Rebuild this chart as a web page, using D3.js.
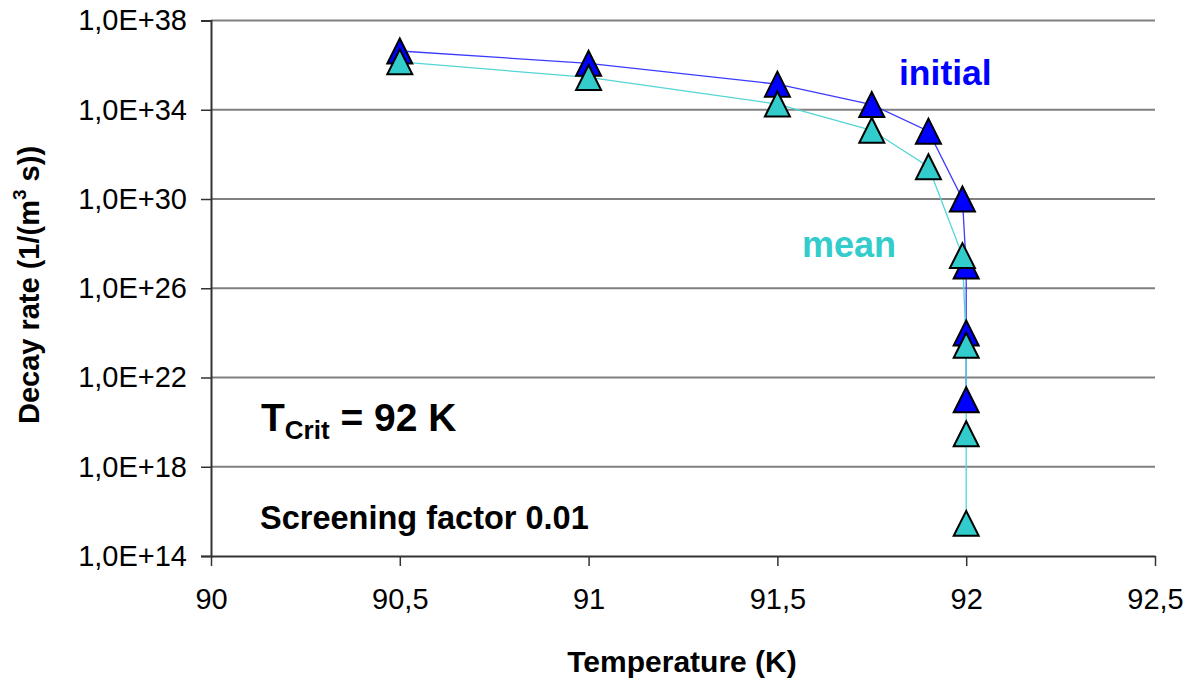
<!DOCTYPE html>
<html>
<head>
<meta charset="utf-8">
<script src="https://cdn.jsdelivr.net/npm/d3@7"></script>
<style>
  html, body { margin: 0; padding: 0; background: #fff; }
  svg { display: block; }
  text { font-family: "Liberation Sans", Arial, sans-serif; }
</style>
</head>
<body>
<svg id="chart" width="1192" height="684"></svg>
<script>
// ---- data ----
const tempInitial = [90.5, 91, 91.5, 91.75, 91.9, 91.99, 92, 92, 92];
const rateInitial = [4.3e36, 1.2e36, 1.4e35, 1.7e34, 1.1e33, 1.0e30, 1.0e27, 1.0e24, 1.0e21];
const tempMean = [90.5, 91, 91.5, 91.75, 91.9, 91.99, 92, 92, 92];
const rateMean = [1.4e36, 2.8e35, 1.8e34, 1.2e33, 2.8e31, 2.9e27, 2.8e23, 3.0e19, 2.9e15];
const xTicks = [90, 90.5, 91, 91.5, 92, 92.5];
const yTicks = [1e14, 1e18, 1e22, 1e26, 1e30, 1e34, 1e38];
const seriesNames = ["initial", "mean"];
const seriesColors = ["#0000ff", "#33cccc"];
const lineColors = ["#3b3bff", "#55d5d5"];

const svg = d3.select("#chart");
const x = d3.scaleLinear().domain([90, 92.5]).range([211, 1155]);
const y = d3.scaleLog().domain([1e14, 1e38]).range([556, 20.5]);

const fmtX = d => String(d).replace(".", ",");
const fmtY = d => "1,0E+" + Math.round(Math.log10(d));

// gridlines
svg.append("g").selectAll("line").data(yTicks.filter(d => d > 1e14)).join("line")
  .attr("x1", 211).attr("x2", 1155)
  .attr("y1", d => y(d)).attr("y2", d => y(d))
  .attr("stroke", "#808080").attr("stroke-width", 2);

// y axis
const yAxis = svg.append("g").attr("transform", "translate(211,0)")
  .call(d3.axisLeft(y).tickValues(yTicks).tickFormat(fmtY).tickSize(10).tickPadding(14));
yAxis.select(".domain").attr("stroke", "#333").attr("stroke-width", 2);
yAxis.selectAll(".tick line").attr("stroke", "#333").attr("stroke-width", 1.5);
yAxis.selectAll(".tick text").attr("font-size", 29).attr("fill", "#000")
  .style("font-family", "'Liberation Sans', Arial, sans-serif");

// x axis
const xAxis = svg.append("g").attr("transform", "translate(0,556)")
  .call(d3.axisBottom(x).tickValues(xTicks).tickFormat(fmtX).tickSize(10).tickSizeOuter(0).tickPadding(22));
xAxis.select(".domain").attr("stroke", "#333").attr("stroke-width", 2);
xAxis.selectAll(".tick line").attr("stroke", "#333").attr("stroke-width", 1.5);
xAxis.selectAll(".tick text").attr("font-size", 29).attr("fill", "#000")
  .style("font-family", "'Liberation Sans', Arial, sans-serif");

// series
const series = [
  { name: seriesNames[0], xs: tempInitial, ys: rateInitial, fill: seriesColors[0], line: lineColors[0] },
  { name: seriesNames[1], xs: tempMean, ys: rateMean, fill: seriesColors[1], line: lineColors[1] }
];
const line = d3.line().x(d => x(d[0])).y(d => y(d[1]));
series.forEach(s => {
  svg.append("path").datum(d3.zip(s.xs, s.ys))
    .attr("d", line).attr("fill", "none")
    .attr("stroke", s.line).attr("stroke-width", 1.3);
});
const tri = "M0,-12.5L12.5,12.5L-12.5,12.5Z";
series.forEach(s => {
  svg.append("g").selectAll("path").data(d3.zip(s.xs, s.ys)).join("path")
    .attr("transform", d => `translate(${x(d[0])},${y(d[1])})`)
    .attr("d", tri).attr("fill", s.fill)
    .attr("stroke", "#000").attr("stroke-width", 2).attr("stroke-linejoin", "miter");
});

// labels
svg.append("text").attr("x", 899).attr("y", 85).attr("font-size", 35.5).attr("font-weight", "bold")
  .attr("fill", seriesColors[0]).text(seriesNames[0]);
svg.append("text").attr("x", 802).attr("y", 257).attr("font-size", 36).attr("font-weight", "bold")
  .attr("fill", seriesColors[1]).text(seriesNames[1]);

const tc = svg.append("text").attr("x", 261).attr("y", 431).attr("font-size", 39).attr("font-weight", "bold");
tc.append("tspan").text("T");
tc.append("tspan").attr("font-size", 26).attr("dy", 8).text("Crit");
tc.append("tspan").attr("dy", -8).text(" = 92 K");

svg.append("text").attr("x", 260).attr("y", 529).attr("font-size", 32.5).attr("font-weight", "bold")
  .text("Screening factor 0.01");

// axis titles
svg.append("text").attr("x", 682).attr("y", 672).attr("text-anchor", "middle")
  .attr("font-size", 30).attr("font-weight", "bold").text("Temperature (K)");
const yt = svg.append("text").attr("transform", "translate(39,285) rotate(-90)")
  .attr("text-anchor", "middle").attr("font-size", 29).attr("font-weight", "bold");
yt.append("tspan").text("Decay rate (1/(m");
yt.append("tspan").attr("font-size", 19).attr("dy", -13).text("3");
yt.append("tspan").attr("dy", 13).text(" s))");
</script>
</body>
</html>
